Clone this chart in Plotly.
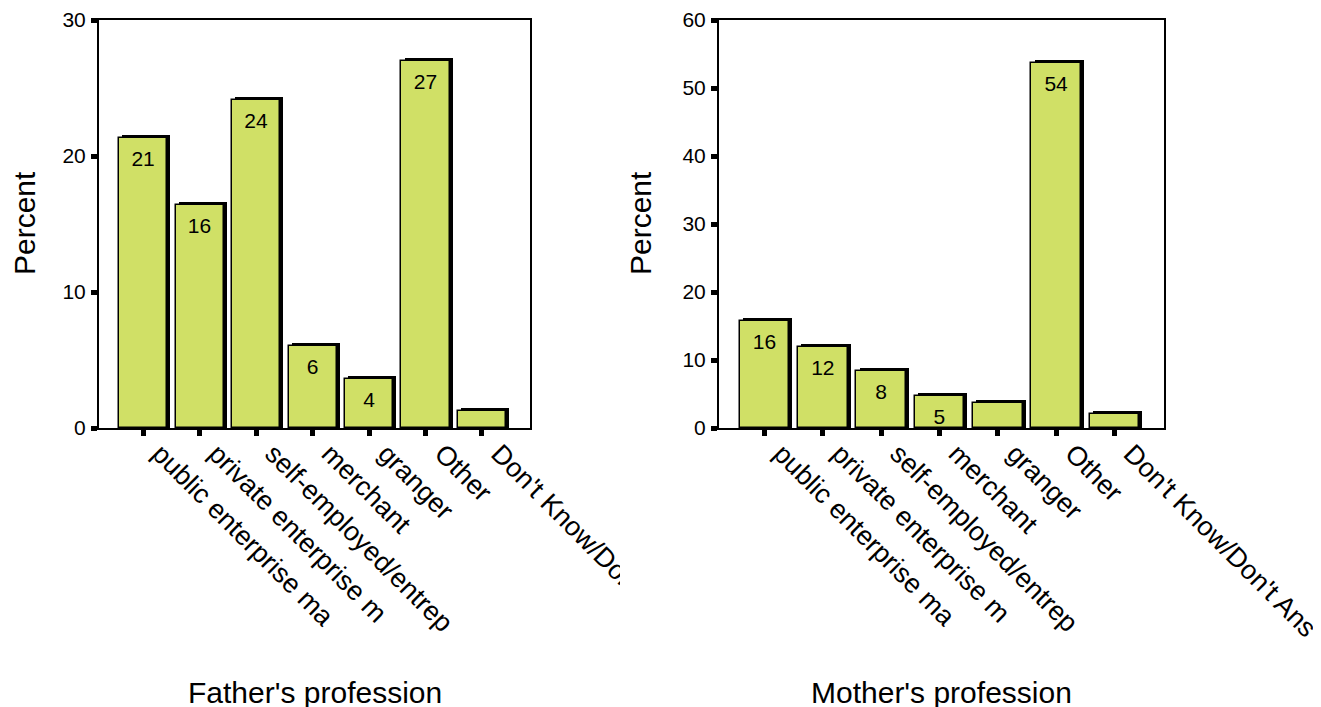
import plotly.graph_objects as go

# ---------------- data ----------------
categories = ["public enterprise ma", "private enterprise m", "self-employed/entrep",
              "merchant", "granger", "Other", "Don't Know/Don't Ans"]
father_pct = [21.3, 16.4, 24.1, 6.0, 3.6, 27.0, 1.25]
mother_pct = [15.7, 11.9, 8.4, 4.7, 3.7, 53.7, 2.1]
father_labels = ["21", "16", "24", "6", "4", "27", ""]
mother_labels = ["16", "12", "8", "5", "", "54", ""]
father_yticks = [0, 10, 20, 30]
mother_yticks = [0, 10, 20, 30, 40, 50, 60]
father_title = "Father's profession"
mother_title = "Mother's profession"
y_title = "Percent"

# ---------------- style ----------------
W, H = 1321, 707
OFF = 8  # page body margin
FONT = "Arial, Liberation Sans, sans-serif"
BAR = "#d0e066"
BODY_W = 0.85
SHADOW_DX = 0.055          # category units
SHADOW_PX = 3.0            # pixels of vertical shadow
PLOT_TOP, PLOT_BOT = 20, 428


def px(x):
    return (x - OFF) / W


def py(y):
    return 1 - (y - OFF) / H


panels = [
    dict(vals=father_pct, labels=father_labels, ticks=father_yticks, title=father_title,
         x0=99, x1=530, ytitle_x=25, xa="x", ya="y"),
    dict(vals=mother_pct, labels=mother_labels, ticks=mother_yticks, title=mother_title,
         x0=719, x1=1164, ytitle_x=641, xa="x2", ya="y2"),
]

fig = go.Figure()
annotations = []
for i, p in enumerate(panels):
    ymax = max(p["ticks"])
    dy = ymax * SHADOW_PX / (PLOT_BOT - PLOT_TOP)
    # shadow
    fig.add_trace(go.Bar(
        x=categories, y=[v + dy for v in p["vals"]], width=BODY_W,
        offset=-BODY_W / 2 + SHADOW_DX, marker=dict(color="black", line=dict(width=0)),
        xaxis=p["xa"], yaxis=p["ya"], hoverinfo="skip", showlegend=False))
    # body
    fig.add_trace(go.Bar(
        x=categories, y=p["vals"], width=BODY_W, offset=-BODY_W / 2,
        marker=dict(color=BAR, line=dict(color="black", width=1.5)),
        xaxis=p["xa"], yaxis=p["ya"], hoverinfo="skip", showlegend=False))
    # value labels
    fig.add_trace(go.Scatter(
        x=categories, y=p["vals"], mode="markers+text", text=p["labels"],
        textposition="bottom center", textfont=dict(family=FONT, size=21, color="black"),
        marker=dict(size=18, opacity=0), xaxis=p["xa"], yaxis=p["ya"],
        hoverinfo="skip", showlegend=False, cliponaxis=False))
    sfx = "" if i == 0 else "2"
    fig.layout["xaxis" + sfx] = dict(
        domain=[px(p["x0"]), px(p["x1"])], anchor="y" + sfx, automargin=False,
        type="category", categoryorder="array", categoryarray=categories,
        range=[-0.78, 6.85], showline=True, linecolor="black", linewidth=2, mirror=True,
        ticks="outside", ticklen=6, tickwidth=5, tickcolor="black",
        tickangle=45, tickfont=dict(family=FONT, size=27, color="black"),
        ticklabelshift=17, ticklabelstandoff=-9,
        showgrid=False, zeroline=False, fixedrange=True)
    fig.layout["yaxis" + sfx] = dict(
        domain=[py(PLOT_BOT), py(PLOT_TOP)], anchor="x" + sfx, automargin=False,
        range=[0, ymax], tickvals=p["ticks"], showline=True, linecolor="black",
        linewidth=2, mirror=True, ticks="outside", ticklen=6, tickwidth=5,
        tickcolor="black", tickfont=dict(family=FONT, size=21, color="black"),
        ticklabelstandoff=1, showgrid=False, zeroline=False, fixedrange=True)
    annotations.append(dict(text=p["title"], xref="paper", yref="paper",
                            x=px((p["x0"] + p["x1"]) / 2), y=py(692),
                            xanchor="center", yanchor="middle", showarrow=False,
                            font=dict(family=FONT, size=30, color="black")))
    annotations.append(dict(text=y_title, xref="paper", yref="paper",
                            x=px(p["ytitle_x"]), y=py(223), textangle=-90,
                            xanchor="center", yanchor="middle", showarrow=False,
                            font=dict(family=FONT, size=30, color="black")))

fig.update_layout(
    template="none",
    width=W, height=H, margin=dict(l=0, r=0, t=0, b=0, autoexpand=False),
    paper_bgcolor="white", plot_bgcolor="white", barmode="overlay", bargap=0,
    annotations=annotations, font=dict(family=FONT, color="black"),
    shapes=[dict(type="rect", xref="paper", yref="paper", layer="above",
                 x0=px(620), x1=px(700), y0=py(660), y1=py(440),
                 fillcolor="white", line=dict(width=0))],
)

fig.write_html("out.html")
